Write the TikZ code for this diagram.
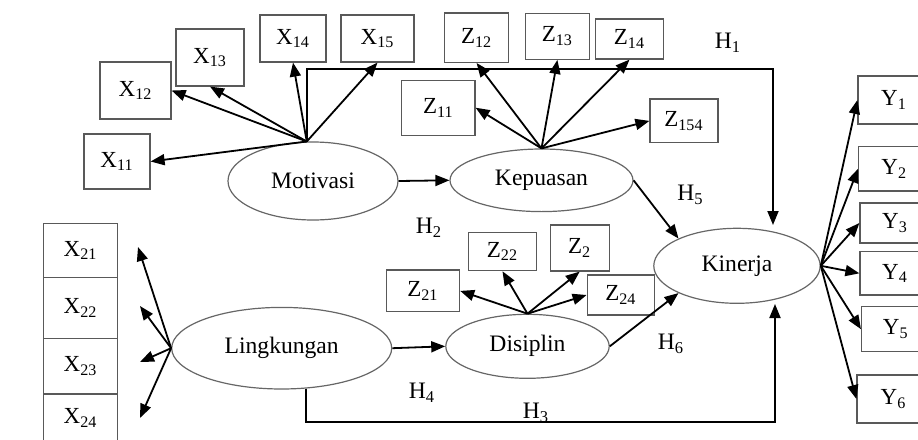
\documentclass[tikz,border=0pt]{standalone}
\usepackage{fontspec}
\setmainfont{Liberation Serif}
\usetikzlibrary{arrows.meta,shapes.geometric}
\begin{document}
\begin{tikzpicture}[x=0.5pt,y=-0.5pt,
    >={Triangle[length=7pt,width=5.5pt]},
    ind/.style={draw=black!65,line width=0.6pt,inner sep=0pt,font=\fontsize{11.5}{13}\selectfont},
    lat/.style={ellipse,draw=black!60,line width=0.6pt,inner sep=0pt,font=\fontsize{11.8}{14}\selectfont},
    arr/.style={->,line width=0.9pt},
    hyp/.style={inner sep=0pt,font=\fontsize{11.8}{14}\selectfont}]
    \useasboundingbox (0,0) rectangle (918,440);

    % latent variables
    \node[lat,minimum width=85pt,minimum height=39pt] (mot) at (313,181) {Motivasi};
    \node[lat,minimum width=91.5pt,minimum height=31.3pt] (kep) at (541.5,180.3) {Kepuasan};
    \node[lat,minimum width=83.2pt,minimum height=37.5pt] (kin) at (737,265.8) {Kinerja};
    \node[lat,minimum width=81.7pt,minimum height=32pt] (dis) at (527.5,346.3) {Disiplin};
    \node[lat,minimum width=110pt,minimum height=40.8pt] (lin) at (281.7,348.2) {Lingkungan};

    % indicators of Motivasi
    \node[ind,minimum width=33pt,minimum height=27.5pt] (x11) at (117,161.5) {X\textsubscript{11}};
    \node[ind,minimum width=35.5pt,minimum height=28.5pt] (x12) at (135.5,90.5) {X\textsubscript{12}};
    \node[ind,minimum width=34pt,minimum height=28.5pt] (x13) at (210,57.5) {X\textsubscript{13}};
    \node[ind,minimum width=33pt,minimum height=23.5pt] (x14) at (293,38.5) {X\textsubscript{14}};
    \node[ind,minimum width=36.5pt,minimum height=23.5pt] (x15) at (377.5,38.5) {X\textsubscript{15}};

    % indicators of Kepuasan
    \node[ind,minimum width=36.7pt,minimum height=27.4pt] (z11) at (438.3,107.7) {Z\textsubscript{11}};
    \node[ind,minimum width=32.1pt,minimum height=24.7pt] (z12) at (476.6,37.7) {Z\textsubscript{12}};
    \node[ind,minimum width=31.9pt,minimum height=23pt] (z13) at (557.4,36.3) {Z\textsubscript{13}};
    \node[ind,minimum width=34pt,minimum height=20pt] (z14) at (629.5,39) {Z\textsubscript{14}};
    \node[ind,minimum width=34pt,minimum height=21.9pt] (z154) at (684,120.9) {Z\textsubscript{154}};

    % indicators of Disiplin
    \node[ind,minimum width=36.7pt,minimum height=20.9pt] (z21) at (422.9,290.9) {Z\textsubscript{21}};
    \node[ind,minimum width=34.3pt,minimum height=19.2pt] (z22) at (502.5,251.5) {Z\textsubscript{22}};
    \node[ind,minimum width=29.5pt,minimum height=23pt] (z2) at (579.7,248) {Z\textsubscript{2}};
    \node[ind,minimum width=33.7pt,minimum height=20pt] (z24) at (620.9,295) {Z\textsubscript{24}};

    % indicators of Lingkungan
    \node[ind,minimum width=37.2pt,minimum height=27.2pt] (x21) at (80.5,250.5) {X\textsubscript{21}};
    \node[ind,minimum width=37.2pt,minimum height=30.3pt] (x22) at (80.5,308) {X\textsubscript{22}};
    \node[ind,minimum width=37.2pt,minimum height=27.9pt] (x23) at (80.5,366.2) {X\textsubscript{23}};
    \node[ind,minimum width=37.2pt,minimum height=24pt] (x24) at (80.5,418) {X\textsubscript{24}};

    % indicators of Kinerja
    \node[ind,minimum width=36pt,minimum height=24pt] (y1) at (894,100) {Y\textsubscript{1}};
    \node[ind,minimum width=35.7pt,minimum height=22.2pt] (y2) at (894.3,168.8) {Y\textsubscript{2}};
    \node[ind,minimum width=35pt,minimum height=20pt] (y3) at (895,223) {Y\textsubscript{3}};
    \node[ind,minimum width=35pt,minimum height=21.7pt] (y4) at (895,273.3) {Y\textsubscript{4}};
    \node[ind,minimum width=34.2pt,minimum height=22.5pt] (y5) at (895.8,329.2) {Y\textsubscript{5}};
    \node[ind,minimum width=36.5pt,minimum height=24pt] (y6) at (893.5,399) {Y\textsubscript{6}};

    % hypotheses
    \node[hyp] (h1) at (728,43) {H\textsubscript{1}};
    \node[hyp] (h2) at (429,228) {H\textsubscript{2}};
    \node[hyp] (h3) at (536,413) {H\textsubscript{3}};
    \node[hyp] (h4) at (422,393) {H\textsubscript{4}};
    \node[hyp] (h5) at (690.5,195) {H\textsubscript{5}};
    \node[hyp] (h6) at (671,344) {H\textsubscript{6}};

    \coordinate (c1) at (773,69);
    \coordinate (k1) at (773,225);
    \coordinate (c3) at (775,421.7);
    \coordinate (k3) at (775,304);
    \coordinate (t21) at (138,247);
    \coordinate (t22) at (140,306);
    \coordinate (t23) at (140,362);
    \coordinate (t24) at (140,418);

    \draw[arr] (mot.99) -- (x11.east);
    \draw[arr] (mot.99) -- (x12.east);
    \draw[arr] (mot.99) -- (x13.south);
    \draw[arr] (mot.99) -- (x14.south);
    \draw[arr] (mot.99) -- (x15.south);

    \draw[arr] (kep.north) -- (z11.east);
    \draw[arr] (kep.north) -- (z12.south);
    \draw[arr] (kep.north) -- (z13.south);
    \draw[arr] (kep.north) -- (z14.south);
    \draw[arr] (kep.north) -- (z154.west);

    \draw[arr] (dis.north) -- (z21.east);
    \draw[arr] (dis.north) -- (z22.south);
    \draw[arr] (dis.north) -- (z2.south);
    \draw[arr] (dis.north) -- (z24.west);

    \draw[arr] (lin.west) -- (t21);
    \draw[arr] (lin.west) -- (t22);
    \draw[arr] (lin.west) -- (t23);
    \draw[arr] (lin.west) -- (t24);

    \draw[arr] (kin.east) -- (y1.west);
    \draw[arr] (kin.east) -- (y2.west);
    \draw[arr] (kin.east) -- (y3.west);
    \draw[arr] (kin.east) -- (y4.west);
    \draw[arr] (kin.east) -- (y5.west);
    \draw[arr] (kin.east) -- (y6.west);

    % structural paths
    \draw[arr] (mot.east) -- (kep.west);
    \draw[arr] (lin.east) -- (dis.west);
    \draw[arr] (kep.east) -- (kin.155);
    \draw[arr] (dis.east) -- (kin.205);
    \draw[arr] (mot.99) |- (c1) -- (k1);
    \draw[arr] (lin.301) |- (c3) -- (k3);
\end{tikzpicture}
\end{document}
